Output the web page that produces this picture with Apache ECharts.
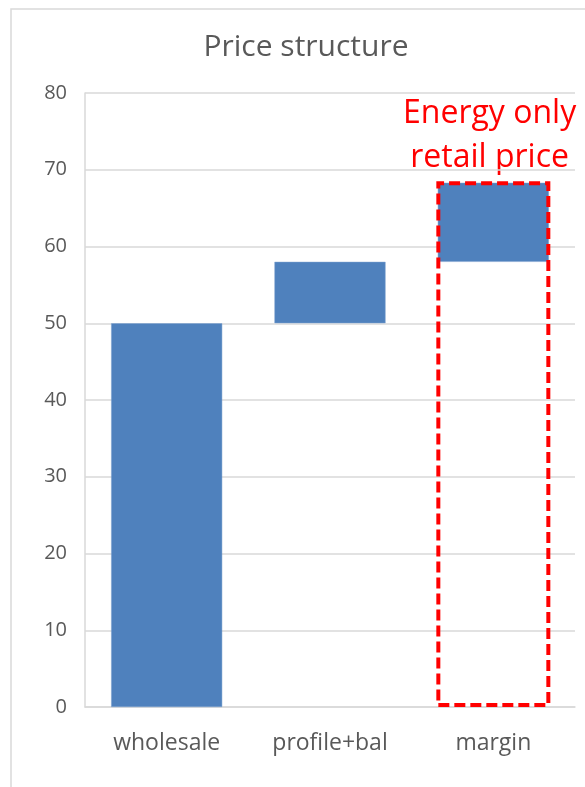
<!DOCTYPE html>
<html><head><meta charset="utf-8">
<script src="https://cdn.jsdelivr.net/npm/echarts@6/dist/echarts.min.js"></script>
<style>html,body{margin:0;padding:0;background:#fff}#c{width:585px;height:787px}</style>
</head><body><div id="c"></div>
<script>
const categories = ['wholesale', 'profile+bal', 'margin'];
const baseValues = [0, 50, 58];
const stepValues = [50, 8, 10.3];
const outlineValues = [null, null, 68.5];
const yTicks = { min: 0, max: 80, interval: 10 };
const annotationLines = ['Energy only', 'retail price'];

const chart = echarts.init(document.getElementById('c'));
const font = "'Open Sans', 'Noto Sans', sans-serif";
chart.setOption({
  animation: false,
  title: { text: 'Price structure', left: 301, top: 27, textAlign: 'center',
    textStyle: { color: '#595959', fontSize: 30, fontWeight: 'normal', fontFamily: font } },
  grid: { left: 85, right: 10, top: 93, bottom: 80 },
  xAxis: [{
    type: 'category', data: categories,
    axisLine: { lineStyle: { color: '#d9d9d9', width: 1.5 } },
    axisTick: { show: false },
    axisLabel: { color: '#595959', fontSize: 23, fontFamily: font, margin: 25 }
  }, {
    type: 'category', data: categories, show: false
  }],
  yAxis: {
    type: 'value', min: yTicks.min, max: yTicks.max, interval: yTicks.interval,
    axisLine: { show: true, lineStyle: { color: '#d9d9d9', width: 1.5 } },
    splitLine: { lineStyle: { color: '#d9d9d9', width: 1.5 } },
    axisLabel: { color: '#595959', fontSize: 20, fontFamily: font, margin: 18 }
  },
  graphic: [
    { type: 'rect', shape: { x: 11, y: 9, width: 600, height: 800 }, silent: true,
      style: { fill: 'none', stroke: '#d9d9d9', lineWidth: 1.5 }, z: -1 },
    { type: 'text', left: 403, top: 92, style: { text: annotationLines.join('\n'), fill: '#ff0000',
      font: "32px 'Open Sans', sans-serif", textAlign: 'center', lineHeight: 44 } }
  ],
  series: [
    { type: 'bar', stack: 'w', data: baseValues, barCategoryGap: '32%',
      itemStyle: { color: 'transparent' } },
    { type: 'bar', stack: 'w', data: stepValues, barCategoryGap: '32%',
      itemStyle: { color: '#4f81bd', borderColor: '#7da0cf', borderWidth: 0.5 } },
    { type: 'bar', xAxisIndex: 1, data: outlineValues, barWidth: 114, z: 5,
      itemStyle: { color: 'transparent', borderColor: '#ff0000', borderWidth: 4,
        borderType: [11, 5] } }
  ]
});
</script></body></html>
